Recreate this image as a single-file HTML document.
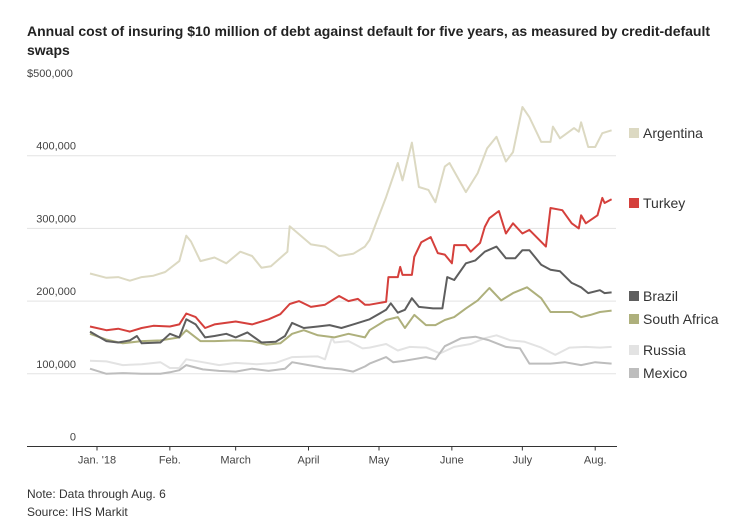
<!DOCTYPE html>
<html><head><meta charset="utf-8"><style>
body{margin:0;background:#fff;width:740px;height:531px;overflow:hidden;font-family:"Liberation Sans",sans-serif;}
</style></head><body>
<svg id="chart" width="740" height="531" style="position:absolute;left:0;top:0">
<text x="27" y="36" font-size="14" font-weight="bold" fill="#222">Annual cost of insuring $10 million of debt against default for five years, as measured by credit-default</text>
<text x="27" y="55" font-size="14" font-weight="bold" fill="#222">swaps</text>
<g id="grid"></g><g id="lines"></g><g id="legend"></g>
<text x="27" y="498" font-size="12" fill="#333">Note: Data through Aug. 6</text>
<text x="27" y="516" font-size="12" fill="#333">Source: IHS Markit</text>
</svg>
<script>
const yTicks=[0,100000,200000,300000,400000,500000];
const yTickLabels=["0","100,000","200,000","300,000","400,000","$500,000"];
const monthDays=[0,31,59,90,120,151,181,212];
const monthLabels=["Jan. '18","Feb.","March","April","May","June","July","Aug."];
const seriesNames=["Argentina","Turkey","Brazil","South Africa","Russia","Mexico"];
const seriesColors=["#dcd9c2","#d5403c","#5e5e5e","#aeb07c","#e3e3e3","#bdbdbd"];
const argDays=[-3,4,9,14,19,24,29,35,38,40,44,50,55,61,66,70,74,81,82,91,97,103,109,114,116,123,128,130,134,137,141,144,148,150,157,162,166,170,174,177,181,184,189,193,194,197,203,205,206,209,212,215,219];
const argVals=[238,232,233,228,233,235,240,255,290,282,255,260,252,268,262,246,248,268,303,278,275,262,265,275,284,343,390,366,418,357,353,336,385,390,350,376,410,426,392,405,467,453,419,419,440,424,438,433,446,412,412,431,435];
const turDays=[-3,4,9,14,19,24,31,35,38,42,46,50,59,66,73,78,82,86,91,97,103,107,111,114,116,123,124,128,129,130,134,135,138,142,145,148,151,152,157,159,163,165,167,171,174,177,181,184,191,193,198,202,205,206,208,213,215,216,219];
const turVals=[165,160,162,158,163,166,165,168,183,178,163,168,172,168,175,182,196,200,192,195,207,200,203,195,195,199,233,233,247,236,236,261,281,288,266,264,252,277,277,268,280,302,314,324,293,307,293,298,275,328,325,307,300,318,307,318,342,335,340];
const braDays=[-3,4,9,14,17,19,27,31,35,38,42,46,50,55,59,64,70,76,80,83,88,94,99,104,109,116,123,125,128,131,134,137,143,147,149,152,157,161,165,170,174,178,181,184,189,193,197,202,206,209,214,216,219];
const braVals=[158,145,143,146,152,142,143,155,150,175,168,150,152,155,150,157,143,144,152,170,163,165,167,163,168,175,188,197,184,188,204,192,190,190,233,229,252,256,268,275,259,259,270,270,250,243,241,225,219,211,215,211,212];
const safDays=[-3,4,11,19,27,35,38,44,50,59,66,72,78,83,88,94,101,107,114,116,123,128,131,135,140,144,148,152,157,162,167,172,177,183,189,193,198,202,206,210,214,219];
const safVals=[155,147,142,145,146,150,160,145,145,146,145,140,142,155,160,153,150,155,150,160,174,178,163,181,167,167,174,178,190,201,218,201,211,219,204,185,185,185,178,181,185,187];
const rusDays=[-3,4,11,19,27,31,35,38,45,52,59,68,76,83,94,97,100,101,107,113,116,123,128,133,140,146,152,159,165,170,176,182,189,195,201,208,214,219];
const rusVals=[118,117,112,113,116,108,108,120,116,112,115,113,115,123,124,120,150,143,145,135,136,141,132,137,136,128,137,141,149,153,146,144,136,126,136,137,136,137];
const mexDays=[-3,4,11,19,27,31,35,38,45,52,59,66,73,80,83,90,97,104,109,114,116,123,126,131,140,144,148,155,161,167,174,180,184,193,199,206,212,219];
const mexVals=[107,100,101,100,100,102,105,112,106,104,103,107,104,107,116,112,108,106,103,110,114,123,116,118,123,120,138,149,151,146,137,135,114,114,116,112,116,114];
const allDays=[argDays,turDays,braDays,safDays,rusDays,mexDays];
const allVals=[argVals,turVals,braVals,safVals,rusVals,mexVals];

const NS="http://www.w3.org/2000/svg";
const X0=97, PXD=2.35, Y0=446.5, PXV=72.7/100000;
const xs=d=>X0+d*PXD, ys=v=>Y0-v*PXV;
const grid=document.getElementById('grid'), lines=document.getElementById('lines'), leg=document.getElementById('legend');
function mk(tag,attrs,parent){const e=document.createElementNS(NS,tag);for(const k in attrs)e.setAttribute(k,attrs[k]);parent.appendChild(e);return e;}
yTicks.forEach((v,i)=>{
  const y=ys(v);
  if(v>0&&v<500000){const l=mk('line',{x1:27,x2:616,y1:y,y2:y,stroke:'#e3e3e3','stroke-width':1},grid);
  
  }
  const t=mk('text',{x:i==5?27:76,y:y-6,'font-size':11,fill:'#444','text-anchor':i==5?'start':'end'},grid);
  t.textContent=yTickLabels[i];
  
  
});
const ax=mk('line',{x1:27,x2:617,y1:Y0,y2:Y0,stroke:'#333','stroke-width':1},grid);


monthDays.forEach((d,i)=>{
  const x=xs(d);
  const tk=mk('line',{x1:x,x2:x,y1:Y0,y2:Y0+4,stroke:'#333'},grid);
  
  
  const t=mk('text',{x:x,y:Y0+17,'font-size':11,fill:'#444','text-anchor':'middle'},grid);
  t.textContent=monthLabels[i];
  
  
});
const order=[4,5,3,2,0,1];
order.forEach(s=>{
  const pts=allDays[s].map((d,i)=>xs(d).toFixed(1)+','+ys(allVals[s][i]*1000).toFixed(1)).join(' ');
  const p=mk('polyline',{points:pts,fill:'none',stroke:seriesColors[s],'stroke-width':2,'stroke-linejoin':'round'},lines);
  
  
});
const legY=[133,203,296,319,350,373];
seriesNames.forEach((n,i)=>{
  const r=mk('rect',{x:629,y:legY[i]-5,width:10,height:10,fill:seriesColors[i]},leg);
  
  
  const t=mk('text',{x:643,y:legY[i]+5,'font-size':14,fill:'#333'},leg);
  t.textContent=n;
  
  
});
</script>
</body></html>
